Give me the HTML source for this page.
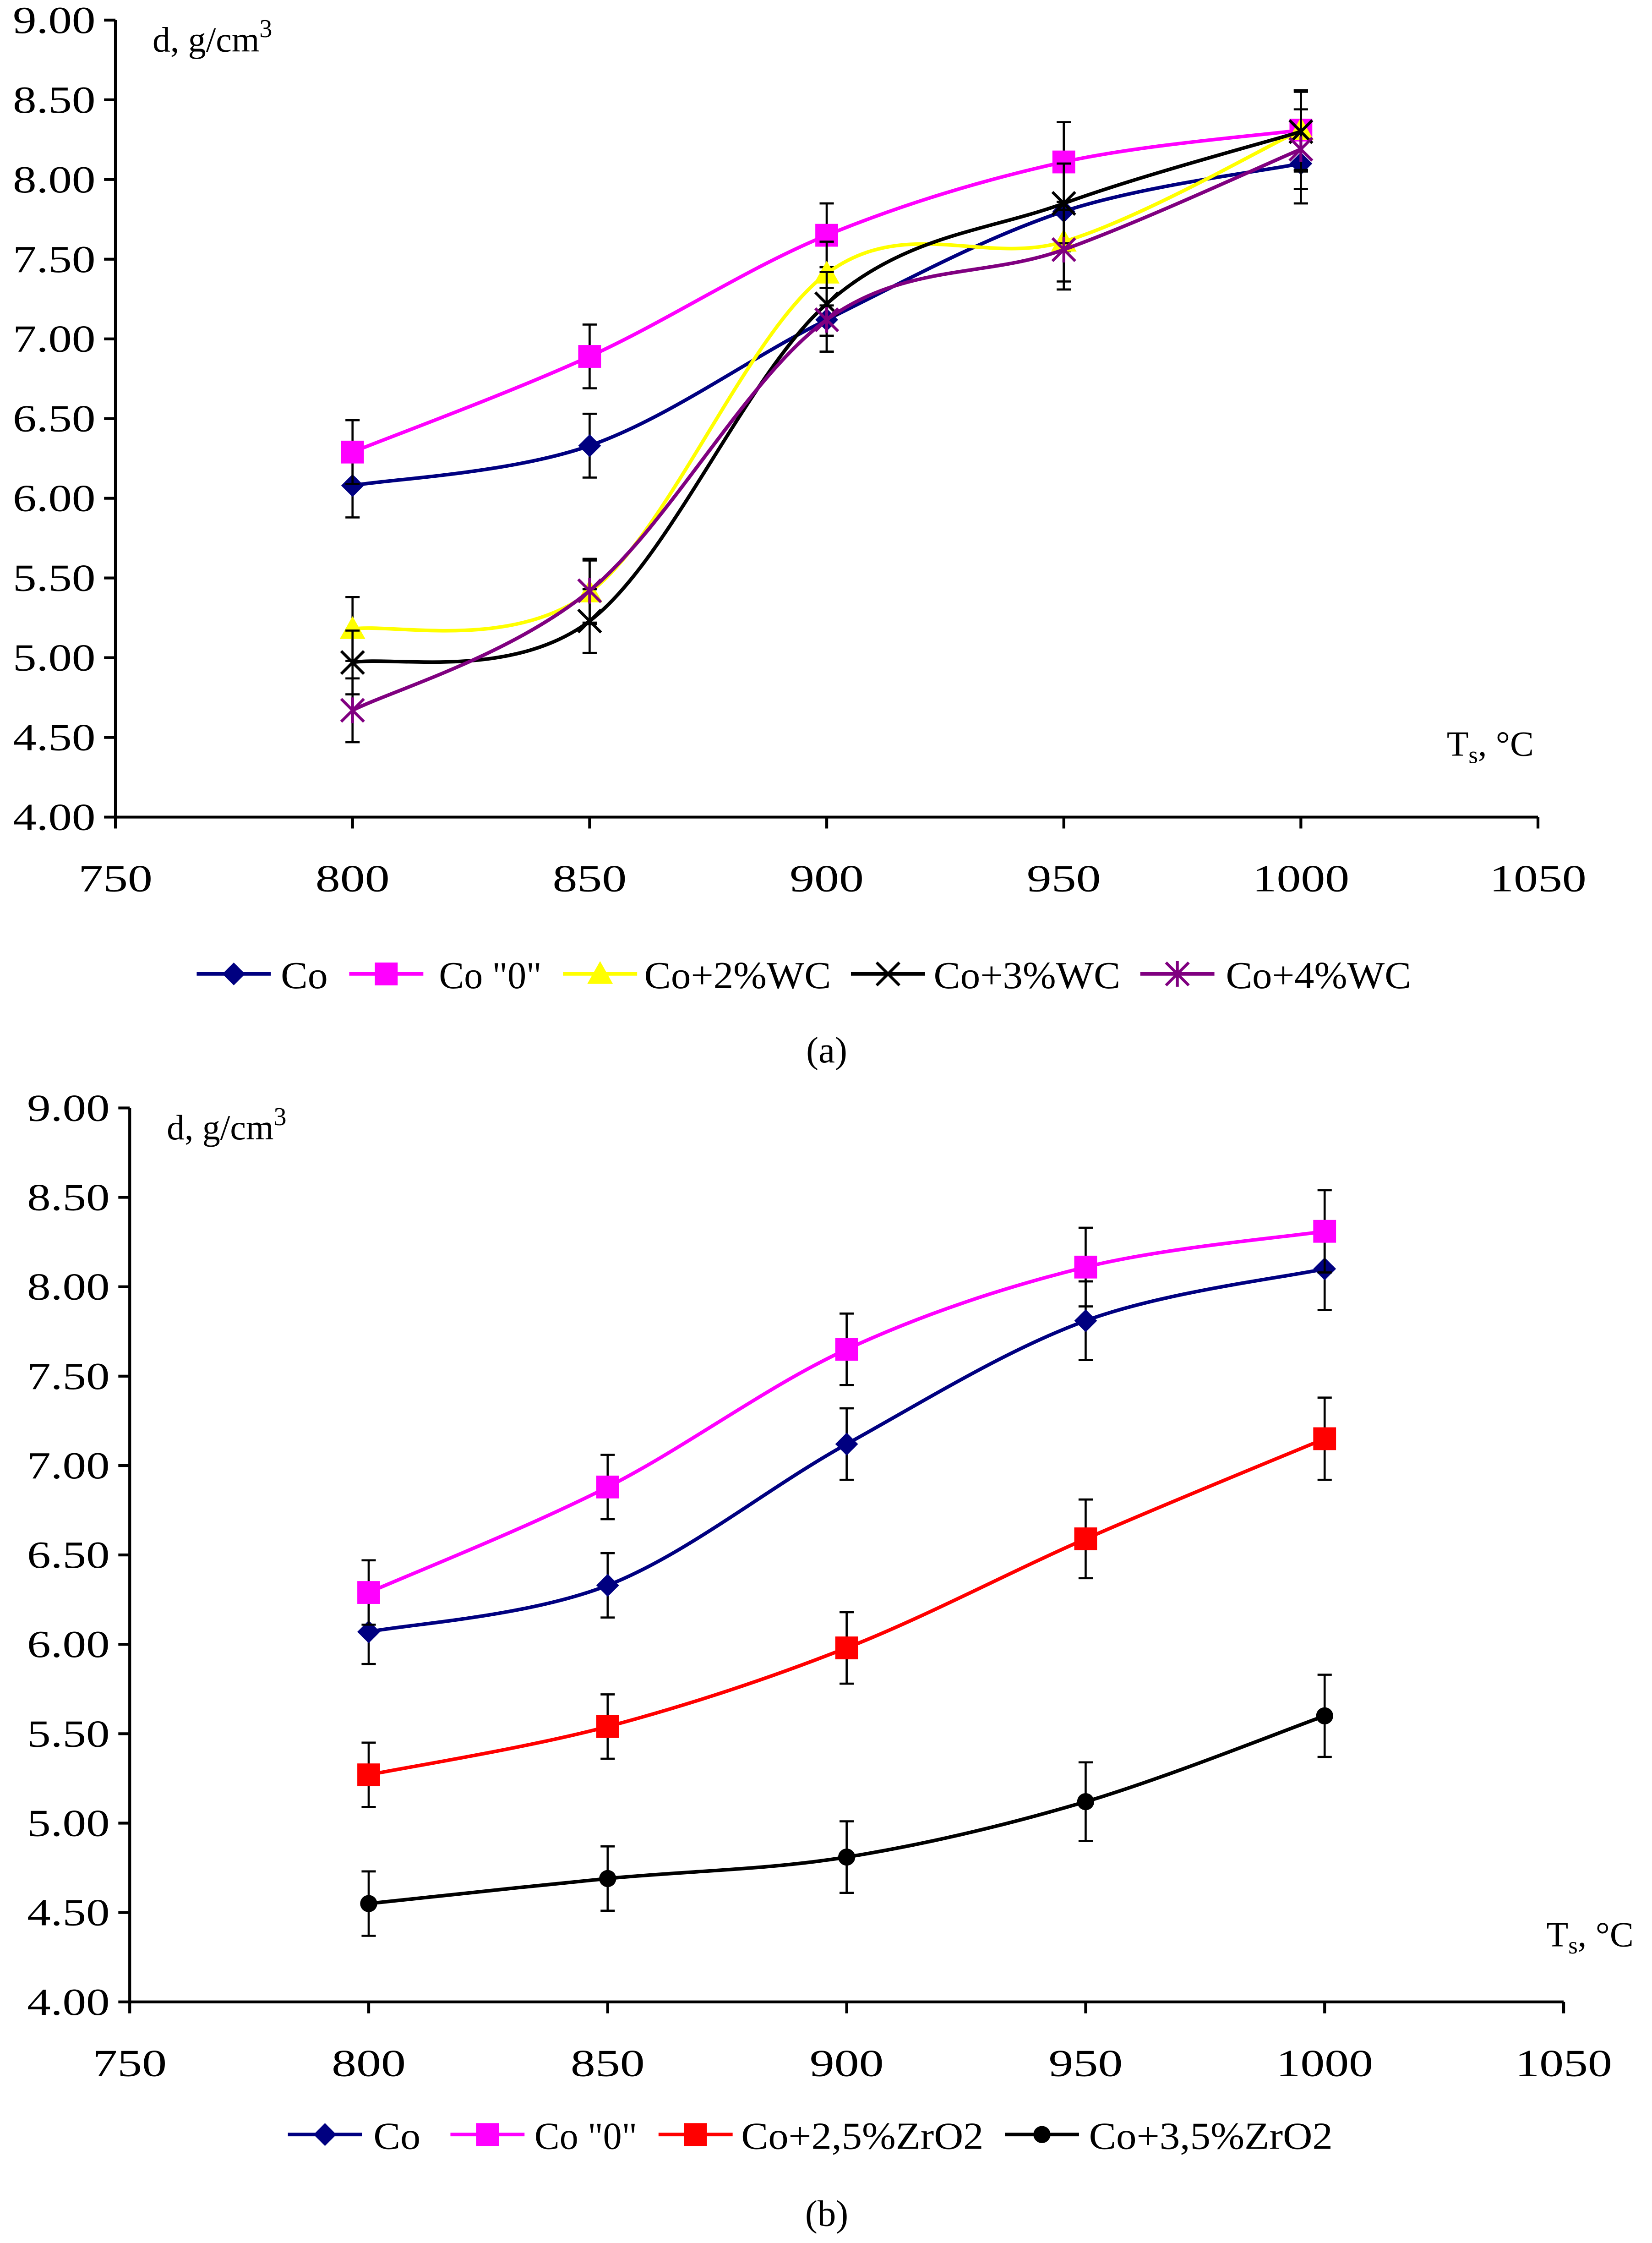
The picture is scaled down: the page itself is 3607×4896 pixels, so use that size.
<!DOCTYPE html>
<html><head><meta charset="utf-8"><style>
html,body{margin:0;padding:0;background:#fff;}
svg{display:block;}
text{font-family:"Liberation Serif",serif;fill:#000;}
</style></head><body>
<svg id="root" width="3607" height="4896" viewBox="0 0 1159 1573" xmlns="http://www.w3.org/2000/svg">
<rect width="1159" height="1573" fill="#fff"/>
<g id="ga"></g>
<g id="gb"></g>
<text x="580" y="745" font-size="26" text-anchor="middle">(a)</text>
<text x="580" y="1561" font-size="26" text-anchor="middle">(b)</text>
</svg>
<script>
const temps=[800,850,900,950,1000];
const xTicks=[750,800,850,900,950,1000,1050];
const yTicks=[4,4.5,5,5.5,6,6.5,7,7.5,8,8.5,9];
const aNames=['Co','Co "0"','Co+2%WC','Co+3%WC','Co+4%WC'];
const aCo=[6.08,6.33,7.12,7.80,8.10];
const aCo0=[6.29,6.89,7.65,8.11,8.31];
const aWC2=[5.18,5.41,7.41,7.61,8.31];
const aWC3=[4.97,5.23,7.22,7.85,8.30];
const aWC4=[4.67,5.42,7.12,7.56,8.19];
const aErr=[0.2,0.2,0.2,0.25,0.25];
const bNames=['Co','Co "0"','Co+2,5%ZrO2','Co+3,5%ZrO2'];
const bCo=[6.07,6.33,7.12,7.81,8.10];
const bCo0=[6.29,6.88,7.65,8.11,8.31];
const bZr25=[5.27,5.54,5.98,6.59,7.15];
const bZr35=[4.55,4.69,4.81,5.12,5.60];
const bErr=[0.18,0.18,0.2,0.22,0.23];
const NS='http://www.w3.org/2000/svg';
function mk(p,t,a){const e=document.createElementNS(NS,t);for(const k in a)e.setAttribute(k,a[k]);p.appendChild(e);return e;}
function spline(pts){let d='M'+pts[0][0]+','+pts[0][1];for(let i=0;i<pts.length-1;i++){const p0=pts[Math.max(0,i-1)],p1=pts[i],p2=pts[i+1],p3=pts[Math.min(pts.length-1,i+2)];const c1=[p1[0]+(p2[0]-p0[0])/6,p1[1]+(p2[1]-p0[1])/6],c2=[p2[0]-(p3[0]-p1[0])/6,p2[1]-(p3[1]-p1[1])/6];d+=' C'+c1+' '+c2+' '+p2;}return d;}
function marker(g,type,x,y,col){
 if(type==='diamond')mk(g,'polygon',{points:`${x},${y-8} ${x+8},${y} ${x},${y+8} ${x-8},${y}`,fill:col});
 else if(type==='square')mk(g,'rect',{x:x-8,y:y-8,width:16,height:16,fill:col});
 else if(type==='triangle')mk(g,'polygon',{points:`${x},${y-9} ${x+9},${y+7} ${x-9},${y+7}`,fill:col});
 else if(type==='x'){mk(g,'path',{d:`M${x-8},${y-8}L${x+8},${y+8}M${x-8},${y+8}L${x+8},${y-8}`,stroke:col,'stroke-width':2});}
 else if(type==='star'){mk(g,'path',{d:`M${x-8},${y-8}L${x+8},${y+8}M${x-8},${y+8}L${x+8},${y-8}M${x},${y-9}L${x},${y+9}`,stroke:col,'stroke-width':2});}
 else if(type==='circle')mk(g,'circle',{cx:x,cy:y,r:6,fill:col});
}
function chart(g,L,R,T,B,series,errs,legend,xlabY){
 const X=v=>L+(v-750)/300*(R-L), Y=v=>B-(v-4)/5*(B-T);
 mk(g,'line',{x1:L,y1:T,x2:L,y2:B,stroke:'#000','stroke-width':2});
 mk(g,'line',{x1:L,y1:B,x2:R,y2:B,stroke:'#000','stroke-width':2});
 yTicks.forEach(v=>{mk(g,'line',{x1:L-8,y1:Y(v),x2:L,y2:Y(v),stroke:'#000','stroke-width':2});
  const t=mk(g,'text',{x:L-14,y:Y(v)+9,'font-size':27,'text-anchor':'end',textLength:58,lengthAdjust:'spacingAndGlyphs'});t.textContent=v.toFixed(2);
  
  });
 xTicks.forEach(v=>{mk(g,'line',{x1:X(v),y1:B,x2:X(v),y2:B+8,stroke:'#000','stroke-width':2});
  const w=v>=1000?68:52;
  const t=mk(g,'text',{x:X(v)-w/2,y:B+52,'font-size':27,textLength:w,lengthAdjust:'spacingAndGlyphs'});t.textContent=v;
  
  });
 const yl=mk(g,'text',{x:L+26,y:T+22,'font-size':25});yl.innerHTML='d, g/cm<tspan dy="-10" font-size="18">3</tspan>';
 
 
 const xl=mk(g,'text',{x:xlabY[0],y:xlabY[1],'font-size':25});xl.innerHTML='T<tspan dy="5" font-size="17">s</tspan><tspan dy="-5">, °C</tspan>';
 
 
 series.forEach(s=>{const sg=mk(g,'g',{});
  
  
  if(s.err)s.vals.forEach((v,i)=>{const x=X(temps[i]);mk(sg,'path',{d:`M${x},${Y(v-errs[i])}V${Y(v+errs[i])}M${x-5},${Y(v-errs[i])}H${x+5}M${x-5},${Y(v+errs[i])}H${x+5}`,stroke:'#000','stroke-width':1.5,fill:'none'});});
  mk(sg,'path',{d:spline(s.vals.map((v,i)=>[X(temps[i]),Y(v)])),stroke:s.col,'stroke-width':2.5,fill:'none'});
  s.vals.forEach((v,i)=>marker(sg,s.m,X(temps[i]),Y(v),s.mcol||s.col));});
 legend.forEach((l,i)=>{const s=series[i];const lg=mk(g,'g',{});
  
  
  mk(lg,'line',{x1:l[0],y1:l[2],x2:l[0]+52,y2:l[2],stroke:s.col,'stroke-width':2.5});
  marker(lg,s.m,l[0]+26,l[2],s.mcol||s.col);
  const t=mk(lg,'text',{x:l[1],y:l[2]+10,'font-size':27,textLength:l[3],lengthAdjust:'spacingAndGlyphs'});t.textContent=s.name;});
}
chart(document.getElementById('ga'),81,1079,14,573,[
 {id:'co',name:aNames[0],vals:aCo,col:'#000080',m:'diamond',err:true},
 {id:'co0',name:aNames[1],vals:aCo0,col:'#FF00FF',m:'square',err:true},
 {id:'wc2',name:aNames[2],vals:aWC2,col:'#FFFF00',m:'triangle',err:true},
 {id:'wc3',name:aNames[3],vals:aWC3,col:'#000000',m:'x',err:true},
 {id:'wc4',name:aNames[4],vals:aWC4,col:'#800080',m:'star',err:true}],aErr,
 [[138,197,683,33],[245,308,683,72],[395,452,683,131],[597,655,683,131],[800,860,683,130]],[1015,530]);
chart(document.getElementById('gb'),91,1097,777,1404,[
 {id:'co',name:bNames[0],vals:bCo,col:'#000080',m:'diamond',err:true},
 {id:'co0',name:bNames[1],vals:bCo0,col:'#FF00FF',m:'square',err:true},
 {id:'zr25',name:bNames[2],vals:bZr25,col:'#FF0000',m:'square',err:true},
 {id:'zr35',name:bNames[3],vals:bZr35,col:'#000000',m:'circle',err:true}],bErr,
 [[202,262,1497,33],[316,375,1497,72],[462,520,1497,170],[705,764,1497,171]],[1085,1365]);
</script>
</body></html>
